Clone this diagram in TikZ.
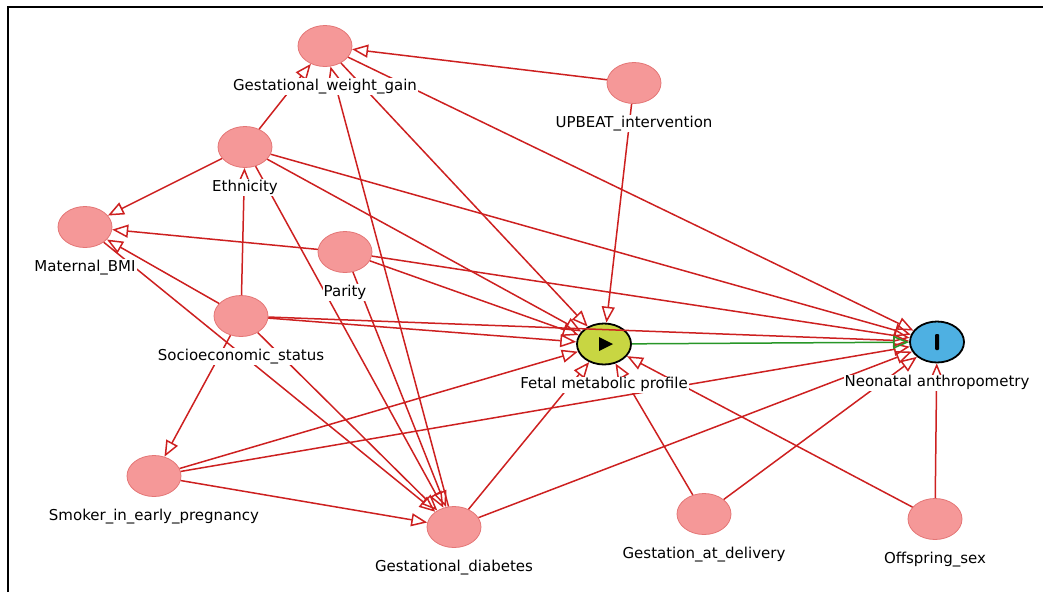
\documentclass[tikz,border=0pt]{standalone}
\usepackage{fontspec}
\setmainfont{DejaVu Sans}
\usetikzlibrary{positioning, arrows.meta, shapes.geometric}

\definecolor{nodepink}{RGB}{245,152,152}
\definecolor{pinkedge}{RGB}{228,118,118}
\definecolor{edgered}{RGB}{205,32,32}
\definecolor{causalgreen}{RGB}{40,150,40}
\definecolor{exposurefill}{RGB}{200,214,66}
\definecolor{outcomefill}{RGB}{78,176,226}

\begin{document}
\begin{tikzpicture}[
    x=1pt, y=-1pt,
    node distance=11pt,
    dagnode/.style={
        ellipse,
        draw=pinkedge,
        fill=nodepink,
        line width=0.8pt,
        minimum width=54pt,
        minimum height=41pt,
        inner sep=0pt
    },
    exposure/.style={dagnode, draw=black, fill=exposurefill, line width=1.8pt},
    outcome/.style={dagnode, draw=black, fill=outcomefill, line width=1.8pt},
    varlabel/.style={
        fill=white,
        inner sep=1pt,
        text height=11pt,
        text depth=3.5pt,
        font=\fontsize{15}{18}\selectfont
    },
    arrow/.style={draw=edgered, line width=1.5pt, -{Triangle[open, length=16pt, width=13pt]}},
    causal/.style={arrow, draw=causalgreen}
]
    \useasboundingbox (0,0) rectangle (1043,592);
    \draw[line width=1.2pt] (8,592) -- (8,7) -- (1043,7);

    \node[dagnode] (gwg) at (325,46) {};
    \node[dagnode] (upbeat) at (634,83) {};
    \node[dagnode] (eth) at (245,147) {};
    \node[dagnode] (bmi) at (85,227) {};
    \node[dagnode] (parity) at (345,252) {};
    \node[dagnode] (ses) at (241,316) {};
    \node[exposure] (fetal) at (604,344) {};
    \node[outcome] (neo) at (937,342) {};
    \node[dagnode] (smoker) at (154,476) {};
    \node[dagnode] (gdm) at (454,527) {};
    \node[dagnode] (gad) at (704,514) {};
    \node[dagnode] (sex) at (935,519) {};

    % exposure and outcome marks
    \fill (fetal.center) ++(-5,-7) -- ++(0,14) -- ++(14,-7) -- cycle;
    \fill[rounded corners=1pt] (neo.center) ++(-2,-8) rectangle ++(4,16);

    \draw[arrow] (upbeat) -- (gwg);
    \draw[arrow] (upbeat) -- (fetal);
    \draw[arrow] (eth) -- (gwg);
    \draw[arrow] (eth) -- (bmi);
    \draw[arrow] (eth) -- (fetal);
    \draw[arrow] (eth) -- (neo);
    \draw[arrow] (eth) -- (gdm);
    \draw[arrow] (ses) -- (eth);
    \draw[arrow] (ses) -- (bmi);
    \draw[arrow] (ses) -- (fetal);
    \draw[arrow] (ses) -- (neo);
    \draw[arrow] (ses) -- (smoker);
    \draw[arrow] (ses) -- (gdm);
    \draw[arrow] (bmi) -- (gdm);
    \draw[arrow] (parity) -- (bmi);
    \draw[arrow] (parity) -- (fetal);
    \draw[arrow] (parity) -- (neo);
    \draw[arrow] (parity) -- (gdm);
    \draw[arrow] (gwg) -- (fetal);
    \draw[arrow] (gwg) -- (neo);
    \draw[arrow] (gdm) -- (gwg);
    \draw[arrow] (smoker) -- (fetal);
    \draw[arrow] (smoker) -- (neo);
    \draw[arrow] (smoker) -- (gdm);
    \draw[arrow] (gdm) -- (fetal);
    \draw[arrow] (gdm) -- (neo);
    \draw[arrow] (gad) -- (fetal);
    \draw[arrow] (gad) -- (neo);
    \draw[arrow] (sex) -- (fetal);
    \draw[arrow] (sex) -- (neo);
    \draw[causal] (fetal) -- (neo);

    \node[varlabel, below=of gwg] (gwg-l) {Gestational\_weight\_gain};
    \node[varlabel, below=of upbeat] (upbeat-l) {UPBEAT\_intervention};
    \node[varlabel, below=of eth] (eth-l) {Ethnicity};
    \node[varlabel, below=of bmi] (bmi-l) {Maternal\_BMI};
    \node[varlabel, below=of parity] (parity-l) {Parity};
    \node[varlabel, below=of ses] (ses-l) {Socioeconomic\_status};
    \node[varlabel, below=of fetal] (fetal-l) {Fetal metabolic profile};
    \node[varlabel, below=of neo] (neo-l) {Neonatal anthropometry};
    \node[varlabel, below=of smoker] (smoker-l) {Smoker\_in\_early\_pregnancy};
    \node[varlabel, below=of gdm] (gdm-l) {Gestational\_diabetes};
    \node[varlabel, below=of gad] (gad-l) {Gestation\_at\_delivery};
    \node[varlabel, below=of sex] (sex-l) {Offspring\_sex};

\end{tikzpicture}
\end{document}
